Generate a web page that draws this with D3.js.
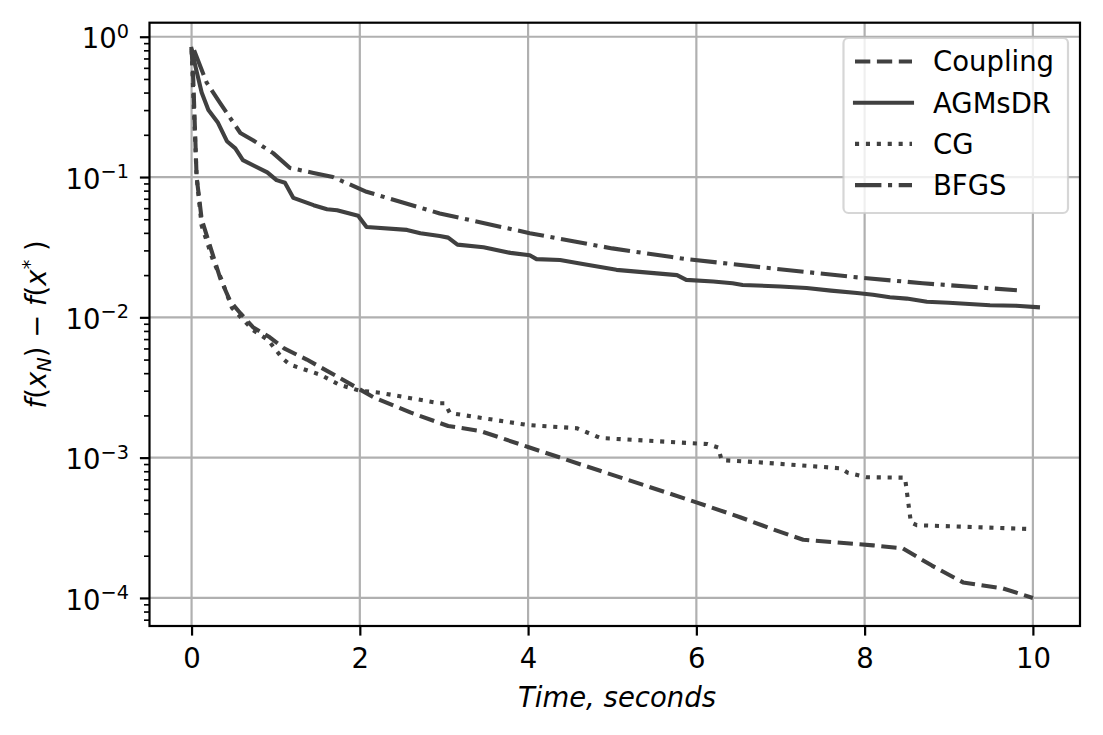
<!DOCTYPE html>
<html>
<head>
<meta charset="utf-8">
<script src="https://cdn.jsdelivr.net/npm/d3@7"></script>
<style>
  html, body { margin: 0; padding: 0; background: #fff; }
  svg { display: block; font-family: "DejaVu Sans", sans-serif; }
</style>
</head>
<body>
<svg id="chart" width="1103" height="735"></svg>
<script>
// ---------------- data ----------------
const seriesNames = ["Coupling", "AGMsDR", "CG", "BFGS"];

const couplingTime = [0, 0.02, 0.06, 0.12, 0.26, 0.34, 0.46, 0.58, 0.73, 0.93, 1.1, 1.37, 1.76, 2.16, 2.6, 3.05, 3.43, 4.0, 4.7, 5.4, 6.0, 6.52, 6.9, 7.27, 8.1, 8.45, 8.8, 9.17, 9.64, 10.0];
const couplingValue = [0.82, 0.5, 0.1, 0.05, 0.027, 0.019, 0.013, 0.0107, 0.0085, 0.0072, 0.006, 0.005, 0.0037, 0.0027, 0.0021, 0.00168, 0.00155, 0.00119, 0.000865, 0.00063, 0.00048, 0.000376, 0.00031, 0.00026, 0.000237, 0.000226, 0.00017, 0.000129, 0.000117, 0.0001];

const agmsdrTime = [0, 0.05, 0.12, 0.2, 0.31, 0.42, 0.52, 0.61, 0.9, 1.01, 1.11, 1.21, 1.45, 1.61, 1.73, 1.98, 2.08, 2.56, 2.72, 2.95, 3.05, 3.16, 3.47, 3.79, 4.02, 4.1, 4.38, 4.65, 5.05, 5.77, 5.88, 6.2, 6.43, 6.55, 7.0, 7.31, 7.6, 7.91, 8.1, 8.3, 8.5, 8.74, 9.0, 9.49, 9.8, 10.06];
const agmsdrValue = [0.82, 0.6, 0.4, 0.3, 0.246, 0.18, 0.16, 0.132, 0.108, 0.095, 0.091, 0.071, 0.063, 0.059, 0.058, 0.053, 0.044, 0.042, 0.0398, 0.038, 0.037, 0.033, 0.0316, 0.0288, 0.0277, 0.026, 0.0256, 0.024, 0.0218, 0.02, 0.0185, 0.018, 0.0175, 0.017, 0.0166, 0.0162, 0.0155, 0.0149, 0.0145, 0.0139, 0.0136, 0.0129, 0.0127, 0.0122, 0.0121, 0.0118];

const cgTime = [0, 0.02, 0.06, 0.12, 0.26, 0.35, 0.48, 0.73, 0.91, 1.08, 1.17, 1.53, 1.76, 2.0, 2.24, 2.95, 3.01, 3.07, 3.99, 4.58, 4.86, 6.13, 6.26, 6.3, 6.7, 7.71, 7.8, 8.03, 8.48, 8.55, 8.62, 9.97];
const cgValue = [0.8, 0.4, 0.1, 0.045, 0.025, 0.019, 0.0117, 0.0081, 0.0069, 0.0051, 0.0046, 0.0039, 0.0033, 0.003, 0.0029, 0.00244, 0.00244, 0.00208, 0.00171, 0.00162, 0.00138, 0.00125, 0.00118, 0.00096, 0.00093, 0.00084, 0.00078, 0.000725, 0.00072, 0.000345, 0.00033, 0.00031];

const bfgsTime = [0.03, 0.18, 0.34, 0.58, 0.73, 0.97, 1.17, 1.45, 1.68, 2.08, 2.95, 4.02, 5.0, 5.69, 5.88, 6.76, 7.86, 8.69, 9.81];
const bfgsValue = [0.8, 0.47, 0.336, 0.206, 0.183, 0.148, 0.116, 0.107, 0.1, 0.0785, 0.055, 0.0398, 0.031, 0.027, 0.026, 0.0228, 0.0194, 0.0175, 0.0156];

const xTickValues = [0, 2, 4, 6, 8, 10];
const yTickExponents = [0, -1, -2, -3, -4];

// ---------------- layout ----------------
const svg = d3.select("#chart");
const L = 149.5, R = 1080, T = 22.7, B = 626;
const FS = 27.5;
const lineColor = "#404040";

const x = d3.scaleLinear().domain([-0.5, 10.56]).range([L, R]);
const y = d3.scaleLog().domain([Math.pow(10, -4.2), Math.pow(10, 0.1)]).range([B, T]);

svg.append("defs").append("clipPath").attr("id", "clip")
  .append("rect").attr("x", L).attr("y", T).attr("width", R - L).attr("height", B - T);

// grid
const grid = svg.append("g");
xTickValues.forEach(v => {
  grid.append("line").attr("x1", x(v)).attr("x2", x(v)).attr("y1", T).attr("y2", B)
    .attr("stroke", "#b0b0b0").attr("stroke-width", 2.2);
});
yTickExponents.forEach(e => {
  grid.append("line").attr("x1", L).attr("x2", R).attr("y1", y(Math.pow(10, e))).attr("y2", y(Math.pow(10, e)))
    .attr("stroke", "#b0b0b0").attr("stroke-width", 2.2);
});

// series
const series = [
  { name: "Coupling", t: couplingTime, v: couplingValue, dash: "15.3,6.6" },
  { name: "AGMsDR", t: agmsdrTime, v: agmsdrValue, dash: null },
  { name: "CG", t: cgTime, v: cgValue, dash: "4.1,6.8" },
  { name: "BFGS", t: bfgsTime, v: bfgsValue, dash: "26.4,6.6,4.1,6.6" }
];

const lineGen = d3.line().x(d => x(d[0])).y(d => y(d[1]));
const plotG = svg.append("g").attr("clip-path", "url(#clip)");
series.forEach(s => {
  const pts = s.t.map((t, i) => [t, s.v[i]]);
  plotG.append("path").datum(pts)
    .attr("d", lineGen)
    .attr("fill", "none")
    .attr("stroke", lineColor)
    .attr("stroke-width", 4.1)
    .attr("stroke-linejoin", "round")
    .attr("stroke-linecap", s.dash ? "butt" : "square")
    .attr("stroke-dasharray", s.dash);
});

// axes ticks (x)
const xAxis = d3.axisBottom(x).tickValues(xTickValues).tickSize(9.6).tickPadding(9.6).tickFormat(d3.format("d"));
const gx = svg.append("g").attr("transform", `translate(0,${B})`).call(xAxis);
gx.select(".domain").remove();
gx.selectAll(".tick line").attr("stroke", "#000").attr("stroke-width", 2.2);
gx.selectAll(".tick text").attr("font-size", FS).attr("fill", "#000")
  .attr("font-family", "DejaVu Sans").attr("dy", null).attr("y", 42.3);

// y axis major ticks via d3 axis, custom labels
const yAxis = d3.axisLeft(y).tickValues(yTickExponents.map(e => Math.pow(10, e))).tickSize(9.6).tickFormat("");
const gy = svg.append("g").attr("transform", `translate(${L},0)`).call(yAxis);
gy.select(".domain").remove();
gy.selectAll(".tick line").attr("stroke", "#000").attr("stroke-width", 2.2);

// minor ticks
const minorVals = [];
for (let e = -5; e <= 0; e++) {
  for (let m = 2; m <= 9; m++) {
    const v = m * Math.pow(10, e);
    if (v >= y.domain()[0] && v <= y.domain()[1]) minorVals.push(v);
  }
}
const yMinor = d3.axisLeft(y).tickValues(minorVals).tickSize(5.5).tickFormat("");
const gym = svg.append("g").attr("transform", `translate(${L},0)`).call(yMinor);
gym.select(".domain").remove();
gym.selectAll(".tick line").attr("stroke", "#000").attr("stroke-width", 1.65);

// y labels 10^e
yTickExponents.forEach(e => {
  const yy = y(Math.pow(10, e));
  const t = svg.append("text").attr("x", 129).attr("y", yy + 11.6)
    .attr("text-anchor", "end").attr("font-size", FS).attr("fill", "#000");
  t.append("tspan").text("10");
  t.append("tspan").attr("font-size", FS * 0.7).attr("dy", -10.5)
    .text(e === 0 ? "0" : "\u2212" + Math.abs(e));
});

// spines
svg.append("rect").attr("x", L).attr("y", T).attr("width", R - L).attr("height", B - T)
  .attr("fill", "none").attr("stroke", "#000").attr("stroke-width", 2.2);

// x label
svg.append("text").attr("x", 617).attr("y", 707.3).attr("text-anchor", "middle")
  .attr("font-size", FS).attr("font-style", "italic").attr("fill", "#000")
  .text("Time, seconds");

// y label
const yl = svg.append("text")
  .attr("transform", `translate(46,${(T + B) / 2}) rotate(-90)`)
  .attr("text-anchor", "middle").attr("font-size", FS).attr("fill", "#000");
yl.append("tspan").attr("font-style", "italic").text("f");
yl.append("tspan").text("(");
yl.append("tspan").attr("font-style", "italic").text("x");
yl.append("tspan").attr("font-style", "italic").attr("font-size", FS * 0.7).attr("dy", 5).text("N");
yl.append("tspan").attr("dy", -5).text(") \u2212 ");
yl.append("tspan").attr("font-style", "italic").text("f");
yl.append("tspan").text("(");
yl.append("tspan").attr("font-style", "italic").text("x");
yl.append("tspan").attr("font-size", FS * 0.7).attr("dy", -10).text("*");
yl.append("tspan").attr("dy", 10).text(" )");

// legend
const lg = svg.append("g");
lg.append("rect").attr("x", 843.5).attr("y", 38).attr("width", 224.5).attr("height", 175)
  .attr("rx", 5).attr("ry", 5)
  .attr("fill", "#fff").attr("fill-opacity", 0.8)
  .attr("stroke", "#cccccc").attr("stroke-opacity", 0.8).attr("stroke-width", 2.2);
series.forEach((s, i) => {
  const ly = 61.5 + i * 41.2;
  lg.append("line").attr("x1", 855).attr("x2", 912).attr("y1", ly).attr("y2", ly)
    .attr("stroke", lineColor).attr("stroke-width", 4.1)
    .attr("stroke-linecap", s.dash ? "butt" : "square")
    .attr("stroke-dasharray", s.dash);
  lg.append("text").attr("x", 933).attr("y", ly + 9.8).attr("font-size", FS).attr("fill", "#000")
    .text(s.name);
});
</script>
</body>
</html>
